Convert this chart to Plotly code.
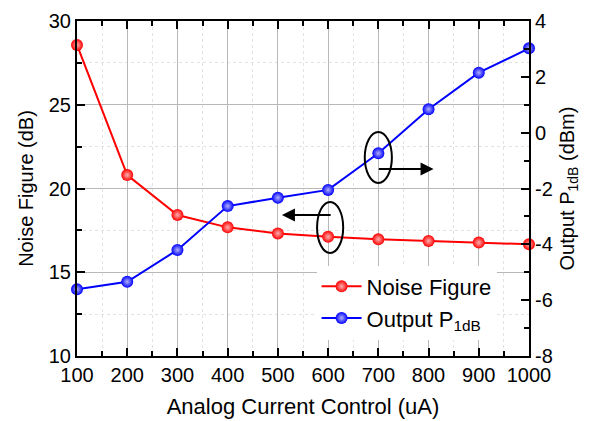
import plotly.graph_objects as go

current_uA = [100, 200, 300, 400, 500, 600, 700, 800, 900, 1000]
noise_figure_dB = [28.57, 20.8, 18.42, 17.68, 17.32, 17.12, 16.97, 16.87, 16.77, 16.67]
output_p1db_dBm = [-5.61, -5.34, -4.20, -2.63, -2.33, -2.05, -0.74, 0.84, 2.15, 3.02]

x_ticks = [100, 200, 300, 400, 500, 600, 700, 800, 900, 1000]
left_ticks = [10, 15, 20, 25, 30]
right_ticks = [-8, -6, -4, -2, 0, 2, 4]
right_tick_text = ["-8", "-6", "-4", "-2", "0", "2", "4"]

FONT = "Liberation Sans, Arial, sans-serif"

fig = go.Figure()
fig.add_trace(go.Scatter(
    x=current_uA, y=noise_figure_dB, name="Noise Figure", mode="lines+markers",
    line=dict(color="#ff0000", width=2),
    marker=dict(color="#ff0000", size=12, gradient=dict(type="radial", color="#ffb0b0"),
                line=dict(width=0)),
    yaxis="y", cliponaxis=False,
))
fig.add_trace(go.Scatter(
    x=current_uA, y=output_p1db_dBm, name="Output P<sub>1dB</sub>", mode="lines+markers",
    line=dict(color="#0000ff", width=2),
    marker=dict(color="#0000ff", size=12, gradient=dict(type="radial", color="#b0b0ff"),
                line=dict(width=0)),
    yaxis="y2", cliponaxis=False,
))

# ellipses marking which axis each curve belongs to
fig.add_shape(type="circle", xref="x", yref="y2", x0=673, x1=727, y0=-1.80, y1=0.02,
              line=dict(color="black", width=2))
fig.add_shape(type="circle", xref="x", yref="y", x0=578, x1=630, y0=16.15, y1=19.2,
              line=dict(color="black", width=2))
fig.add_annotation(x=810, y=-1.30, xref="x", yref="y2", ax=698, ay=-1.30, axref="x", ayref="y2",
                   text="", showarrow=True, arrowhead=2, arrowsize=1.3, arrowwidth=2, arrowcolor="black")
fig.add_annotation(x=508, y=18.42, xref="x", yref="y", ax=608, ay=18.42, axref="x", ayref="y",
                   text="", showarrow=True, arrowhead=2, arrowsize=1.3, arrowwidth=2, arrowcolor="black")

fig.update_layout(
    width=598, height=421,
    margin=dict(l=77, r=69, t=21, b=65, autoexpand=False),
    paper_bgcolor="white", plot_bgcolor="white",
    font=dict(family=FONT, size=20, color="black"),
    showlegend=True,
    legend=dict(x=0.53, y=0.27, xanchor="left", yanchor="top", bgcolor="white",
                font=dict(size=22, family=FONT), tracegroupgap=0, itemwidth=40),
    xaxis=dict(
        range=[100, 1000], tickvals=x_ticks, ticks="inside", ticklen=8, tickwidth=2,
        tickcolor="black", showline=True, linecolor="black", linewidth=2, mirror="ticks",
        showgrid=True, gridcolor="#b8b8b8", gridwidth=1, zeroline=False, automargin=False,
        tickfont=dict(size=20),
        title=dict(text="Analog Current Control (uA)", font=dict(size=22), standoff=14),
        minor=dict(dtick=50, tick0=0, ticks="inside", ticklen=5, tickwidth=2, tickcolor="black",
                   showgrid=True, gridcolor="#e2e2e2", gridwidth=1, griddash="dot"),
    ),
    yaxis=dict(
        range=[10, 30], tickvals=left_ticks, ticks="inside", ticklen=8, tickwidth=2,
        tickcolor="black", showline=True, linecolor="black", linewidth=2, automargin=False,
        showgrid=True, gridcolor="#b8b8b8", gridwidth=1, zeroline=False,
        tickfont=dict(size=20),
        title=dict(text="Noise Figure (dB)", font=dict(size=20), standoff=10),
        minor=dict(dtick=2.5, tick0=0, ticks="inside", ticklen=5, tickwidth=2, tickcolor="black",
                   showgrid=True, gridcolor="#e2e2e2", gridwidth=1, griddash="dot"),
    ),
    yaxis2=dict(
        range=[-8, 4], tickvals=right_ticks, ticktext=right_tick_text, overlaying="y", side="right",
        ticks="inside", ticklen=8, tickwidth=2, tickcolor="black", automargin=False,
        showline=True, linecolor="black", linewidth=2, showgrid=False, zeroline=False,
        tickfont=dict(size=20),
        title=dict(text="Output P<sub>1dB</sub> (dBm)", font=dict(size=20), standoff=8),
        minor=dict(dtick=1, tick0=0, ticks="inside", ticklen=5, tickwidth=2, tickcolor="black",
                   showgrid=False),
    ),
)

fig.write_html("out.html")
